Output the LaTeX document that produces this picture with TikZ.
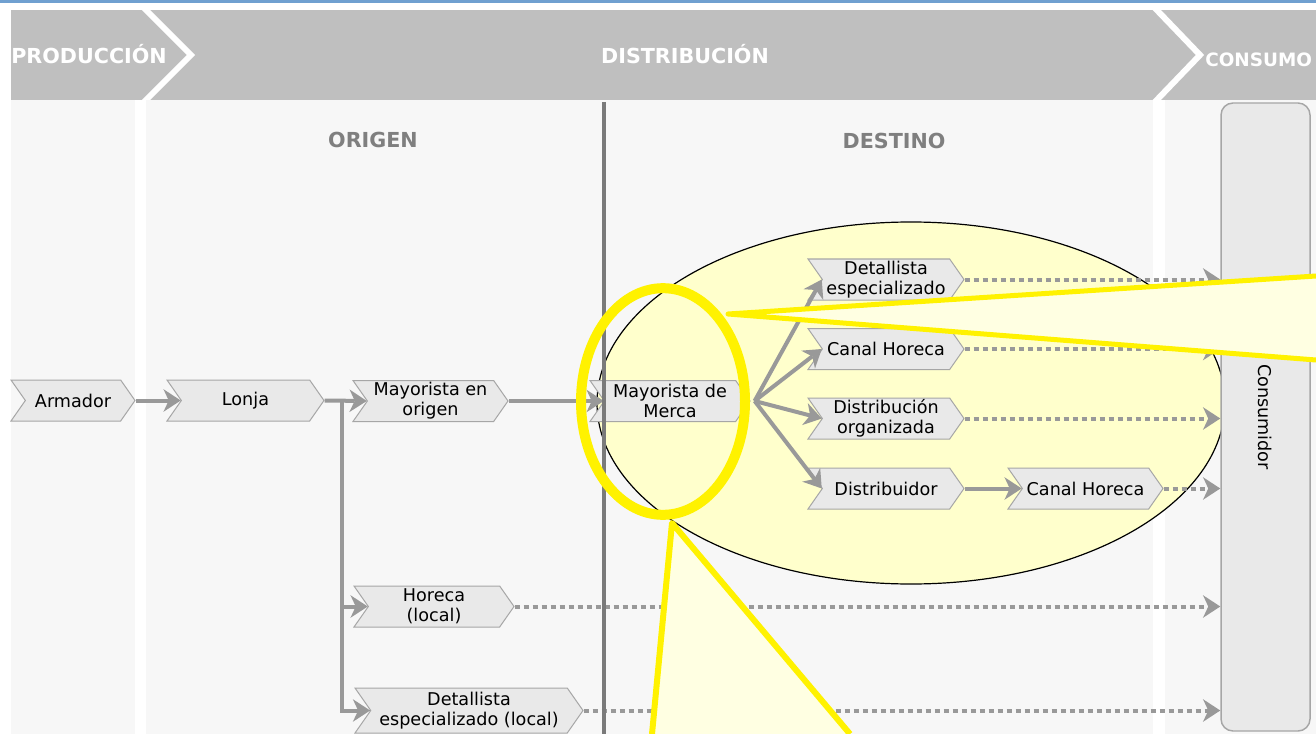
\documentclass[tikz,border=0pt]{standalone}
\usepackage{fontspec}
\setmainfont{DejaVu Sans}
\usetikzlibrary{calc,shapes.symbols,arrows.meta}

\definecolor{azulborde}{RGB}{112,160,208}
\definecolor{cabecera}{RGB}{191,191,191}
\definecolor{fondo}{RGB}{247,247,247}
\definecolor{caja}{RGB}{233,233,233}
\definecolor{cajaborde}{RGB}{166,166,166}
\definecolor{flecha}{RGB}{153,153,153}
\definecolor{divisor}{RGB}{122,122,122}
\definecolor{amarillo}{RGB}{255,255,204}
\definecolor{haz}{RGB}{255,255,226}
\definecolor{subtitulo}{RGB}{127,127,127}

\begin{document}
\begin{tikzpicture}[x=0.75pt,y=-0.75pt,
  paso/.style={shape=signal, signal from=west, signal to=east,
    signal pointer angle=110, draw=cajaborde, fill=caja, line width=0.75pt,
    inner sep=0pt, align=center, minimum height=30.75pt,
    minimum width=#1*0.75pt, font=\fontsize{13.2}{15}\selectfont},
  linea/.style={draw=flecha, line width=3pt},
  flechita/.style={linea, -{Stealth[length=13pt,width=17pt,inset=4pt,line width=0pt]}},
  punteado/.style={flechita, dash pattern=on 3.75pt off 3pt},
  titulo/.style={text=white, font=\fontsize{15.5}{18}\selectfont\bfseries},
  subtitulo/.style={text=subtitulo, font=\fontsize{15.5}{18}\selectfont\bfseries}]
  \useasboundingbox (0,0) rectangle (1316,734);

  % cabecera
  \fill[azulborde] (0,0) rectangle (1316,3.5);
  \fill[cabecera] (11,10) rectangle (1316,100);
  \begin{scope}
    \clip (11,10) rectangle (1316,100);
    \draw[white, line width=4.5pt] (141,5) -- (191,55) -- (141,105);
    \draw[white, line width=4.5pt] (1152,5) -- (1200,55) -- (1152,105);
  \end{scope}
  \fill[fondo] (11,100) rectangle (135,734);
  \fill[fondo] (146,100) rectangle (1153,734);
  \fill[fondo] (1165,100) rectangle (1316,734);
  \node[titulo] at (89,54) {PRODUCCIÓN};
  \node[titulo] at (685,54) {DISTRIBUCIÓN};
  \node[titulo, font=\fontsize{13.8}{16}\selectfont\bfseries, anchor=west,
    inner sep=0pt] at (1205,60) {CONSUMO};
  \node[subtitulo] at (373,140) {ORIGEN};
  \node[subtitulo] at (894,141) {DESTINO};

  \draw[fill=amarillo, line width=0.9pt] (911,403)
    ellipse [x radius=235.5pt, y radius=135.75pt];
  \node[draw=cajaborde, fill=caja, line width=1.1pt, rounded corners=9pt,
    minimum width=66.75pt, minimum height=471pt, inner sep=0pt,
    label={[rotate=-90, font=\fontsize{13.2}{15}\selectfont]center:Consumidor}]
    (consumidor) at (1265.5,417) {};

  % etapas
  \node[paso=124] (armador) at (73,400.5) {Armador};
  \node[paso=157] (lonja) at (245.5,400.5) {Lonja};
  \node[paso=155] (mayorig) at (430.5,401) {Mayorista en\\origen};
  \node[paso=160] (merca) at (670,401) {Mayorista de\\Merca};
  \node[paso=156] (detesp) at (886,279.5) {Detallista\\especializado};
  \node[paso=156] (canal1) at (886,349) {Canal Horeca};
  \node[paso=156] (distorg) at (886,418.5) {Distribución\\organizada};
  \node[paso=156] (distrib) at (886,488.5) {Distribuidor};
  \node[paso=155] (canal2) at (1085.5,488.5) {Canal Horeca};
  \node[paso=160] (horloc) at (434,606.5) {Horeca\\(local)};
  \node[paso=228, minimum height=33.75pt] (detloc) at (469,710.5)
    {Detallista\\especializado (local)};

  % flujos
  \coordinate (rama) at ($(lonja.east)+(17,0)$);
  \draw[flechita] (armador.east) -- (lonja.west);
  \draw[flechita] (lonja.east) -- (mayorig.west);
  \draw[flechita] (rama) |- (horloc.west);
  \draw[flechita] (rama) |- (detloc.west);
  \draw[flechita] (mayorig.east) -- (merca.west);
  \foreach \destino in {detesp,canal1,distorg,distrib}
    \draw[flechita] ($(merca.east)+(4,0)$) -- (\destino.west);
  \draw[flechita] (distrib.east) -- (canal2.west);
  \foreach \origen in {detesp,canal1,distorg,canal2,horloc,detloc}
    \draw[punteado] (\origen.east) -- (\origen.east -| consumidor.west);

  \draw[divisor, line width=3pt] (604,102) -- (604,734);

  % zoom
  \fill[haz] (728,314) -- (1316,276) -- (1316,360) -- cycle;
  \fill[haz] (672,523) -- (652,734) -- (850,734) -- cycle;
  \draw[yellow, line width=3.75pt, line join=round] (1316,276) -- (728,314) -- (1316,360);
  \draw[yellow, line width=4.5pt, line join=round] (652,734) -- (672,523) -- (850,734);
  \draw[yellow, line width=7.5pt] (663,401.5) ellipse [x radius=61.5pt, y radius=85pt];
\end{tikzpicture}
\end{document}
